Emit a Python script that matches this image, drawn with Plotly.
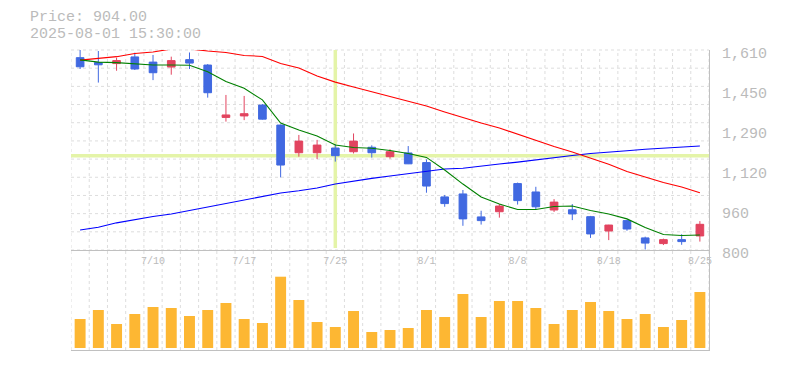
import plotly.graph_objects as go

# ---------------- data ----------------
dates = ["2025-07-04", "2025-07-07", "2025-07-08", "2025-07-09", "2025-07-10",
         "2025-07-11", "2025-07-14", "2025-07-15", "2025-07-16", "2025-07-17",
         "2025-07-18", "2025-07-22", "2025-07-23", "2025-07-24", "2025-07-25",
         "2025-07-28", "2025-07-29", "2025-07-30", "2025-07-31", "2025-08-01",
         "2025-08-04", "2025-08-05", "2025-08-06", "2025-08-07", "2025-08-08",
         "2025-08-12", "2025-08-13", "2025-08-14", "2025-08-15", "2025-08-18",
         "2025-08-19", "2025-08-20", "2025-08-21", "2025-08-22", "2025-08-25"]

open_ = [1579, 1559, 1555, 1582, 1561, 1541, 1571, 1549, 1337, 1343,
         1387, 1306, 1194, 1194, 1213, 1198, 1216, 1178, 1193, 1154,
         1015, 1027, 934, 955, 1069, 1035, 962, 963, 935, 877,
         919, 849, 826, 842, 857]
high = [1615, 1606, 1579, 1599, 1590, 1583, 1600, 1553, 1428, 1424,
        1391, 1308, 1266, 1246, 1229, 1272, 1224, 1208, 1221, 1167,
        1023, 1043, 959, 986, 1073, 1056, 1006, 986, 938, 902,
        922, 854, 846, 864, 917]
low = [1533, 1478, 1526, 1529, 1488, 1510, 1533, 1417, 1320, 1326,
       1328, 1094, 1178, 1168, 1158, 1191, 1174, 1170, 1148, 1032,
       975, 898, 903, 931, 984, 966, 954, 921, 849, 840,
       878, 802, 820, 821, 834]
close = [1542, 1550, 1567, 1533, 1518, 1567, 1557, 1437, 1347, 1352,
         1330, 1144, 1241, 1225, 1182, 1241, 1194, 1198, 1149, 1059,
         988, 926, 919, 978, 1000, 975, 994, 946, 865, 901,
         885, 828, 842, 834, 904]

ma_short = [1570, 1561, 1559, 1553, 1549, 1549, 1548, 1522, 1482, 1455,
            1408, 1314, 1286, 1262, 1225, 1215, 1212, 1203, 1191, 1175,
            1124, 1067, 1015, 986, 964, 964, 976, 978, 960, 946,
            926, 891, 863, 859, 861]
ma_mid = [1569, 1575, 1583, 1596, 1602, 1614, 1614, 1606, 1600, 1588,
          1584, 1555, 1537, 1505, 1480, 1460, 1440, 1420, 1403, 1383,
          1359, 1335, 1314, 1294, 1268, 1244, 1219, 1197, 1173, 1147,
          1118, 1094, 1073, 1055, 1032]
ma_long = [881, 892, 910, 924, 936, 946, 960, 976, 990, 1003,
           1015, 1031, 1040, 1051, 1067, 1080, 1090, 1100, 1110, 1120,
           1128, 1131, 1138, 1148, 1156, 1166, 1175, 1183, 1191, 1198,
           1202, 1208, 1212, 1216, 1221]

volume = [29000, 38000, 24000, 34000, 41000, 40000, 32000, 38000, 45000, 29000,
          25000, 71300, 48000, 26000, 21000, 37000, 16000, 18000, 20000, 38000,
          31000, 54000, 31000, 47000, 47000, 40000, 24000, 38000, 46000, 37000,
          29000, 34000, 21000, 28000, 56000]

x_tick_dates = ["2025-07-10", "2025-07-17", "2025-07-25", "2025-08-01",
                "2025-08-08", "2025-08-18", "2025-08-25"]
x_tick_labels = ["7/10", "7/17", "7/25", "8/1", "8/8", "8/18", "8/25"]

y_tick_vals = [800, 962, 1124, 1286, 1448, 1610]
y_tick_labels = ["800", "960", "1,120", "1,290", "1,450", "1,610"]

crosshair_date = "2025-07-25"
crosshair_price = 1182
info_price = "Price: 904.00"
info_time = "2025-08-01 15:30:00"

# ---------------- style ----------------
UP = "#E2445F"
DOWN = "#4169E1"
VOL = "#FDB733"
TXT = "#BBBBBB"
LINE = "#C0C0C0"
GRID = "#DDDDDD"
CROSS = "rgb(228,244,168)"
FONT = "Liberation Mono"

fig = go.Figure()

fig.add_trace(go.Candlestick(
    x=dates, open=open_, high=high, low=low, close=close,
    increasing=dict(line=dict(color=UP, width=1), fillcolor=UP),
    decreasing=dict(line=dict(color=DOWN, width=1), fillcolor=DOWN),
    whiskerwidth=0, xaxis="x", yaxis="y", hoverinfo="skip",
))
for vals, col in [(ma_long, "#0000FF"), (ma_mid, "#FF0000"), (ma_short, "#008000")]:
    fig.add_trace(go.Scatter(x=dates, y=vals, mode="lines",
                             line=dict(color=col, width=1.1),
                             xaxis="x", yaxis="y", hoverinfo="skip"))

fig.add_trace(go.Bar(x=dates, y=volume, marker=dict(color=VOL, line=dict(width=0)),
                     width=0.6, xaxis="x2", yaxis="y2", hoverinfo="skip"))

shapes = []
n = len(dates)
for k in range(n + 1):
    shapes.append(dict(type="line", xref="x", yref="paper", x0=k - 0.5, x1=k - 0.5,
                       y0=0, y1=1, layer="below",
                       line=dict(color=GRID, width=1, dash="3px,3px")))
for k in range(12):
    shapes.append(dict(type="line", xref="x domain", yref="y domain", x0=0, x1=1,
                       y0=k / 11, y1=k / 11, layer="below",
                       line=dict(color=GRID, width=1, dash="3px,3px")))
shapes.append(dict(type="line", xref="x", yref="y domain",
                   x0=crosshair_date, x1=crosshair_date, y0=0.01, y1=1, layer="below",
                   line=dict(color=CROSS, width=3.5)))
shapes.append(dict(type="line", xref="x domain", yref="y",
                   x0=0, x1=1, y0=crosshair_price, y1=crosshair_price, layer="below",
                   line=dict(color=CROSS, width=3.5)))

# page has an 8px body margin; figure is offset by it
OFF = 8
W, H = 777, 362
ML, MR, MT, MB = 63, 76, 42, 20
PW = W - ML - MR
PH = H - MT - MB

def px_x(px):
    return (px - OFF - ML) / PW

def px_y(py):
    return (H - MB - (py - OFF)) / PH

annotations = [
    dict(text=info_price, xref="paper", yref="paper", x=px_x(28),
         y=px_y(18), xanchor="left", yanchor="middle", showarrow=False,
         font=dict(family=FONT, size=15, color=TXT)),
    dict(text=info_time, xref="paper", yref="paper", x=px_x(28),
         y=px_y(34), xanchor="left", yanchor="middle", showarrow=False,
         font=dict(family=FONT, size=15, color=TXT)),
]

fig.update_layout(
    width=W, height=H,
    margin=dict(l=ML, r=MR, t=MT, b=MB, pad=0, autoexpand=False),
    paper_bgcolor="white", plot_bgcolor="white",
    showlegend=False, boxgap=0.4,
    shapes=shapes, annotations=annotations,
    xaxis=dict(type="category", range=[-0.5, n - 0.5], domain=[0, 1], anchor="y",
               showgrid=False, zeroline=False, showline=True, linecolor=LINE, linewidth=1,
               tickvals=x_tick_dates, ticktext=x_tick_labels, ticks="",
               tickfont=dict(family=FONT, size=10, color=TXT),
               ticklabelstandoff=1, automargin=False,
               rangeslider=dict(visible=False), fixedrange=True),
    yaxis=dict(domain=[1 / 3, 1], range=[800, 1610], side="right", anchor="x",
               showgrid=False, zeroline=False, showline=True, linecolor=LINE, linewidth=1,
               tickvals=y_tick_vals, ticktext=y_tick_labels, ticks="",
               tickfont=dict(family=FONT, size=15, color=TXT),
               ticklabelstandoff=9, ticklabelshift=3, automargin=False, fixedrange=True),
    xaxis2=dict(type="category", matches="x", anchor="y2", domain=[0, 1],
                showgrid=False, zeroline=False, showline=True, linecolor=LINE, linewidth=1,
                showticklabels=False, ticks="", automargin=False, fixedrange=True),
    yaxis2=dict(domain=[0, 1 / 3], range=[-2000, 98000], side="right", anchor="x2",
                showgrid=False, zeroline=False, showline=True, linecolor=LINE, linewidth=1,
                showticklabels=False, ticks="", automargin=False, fixedrange=True),
)

fig.write_html("out.html")
